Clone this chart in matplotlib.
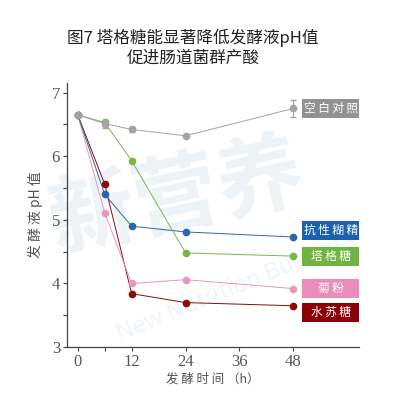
import numpy as np
import matplotlib.pyplot as plt
from matplotlib.patches import Rectangle

plt.rcParams['font.family'] = ['Noto Sans CJK SC', 'DejaVu Sans']

# 数据：发酵时间 (h) 和 pH 值
t = [0, 6, 12, 24, 48]
ph_blank = [6.65, 6.51, 6.42, 6.32, 6.75]
err_blank = [0.0, 0.06, 0.04, 0.02, 0.14]
ph_tag = [6.65, 6.53, 5.93, 4.48, 4.43]
ph_rd = [6.65, 5.40, 4.90, 4.81, 4.73]
ph_inulin = [6.65, 5.11, 4.00, 4.06, 3.92]
ph_sta = [6.65, 5.56, 3.84, 3.70, 3.65]

names = ["空白对照", "抗性糊精", "塔格糖", "菊粉", "水苏糖"]
series = [ph_blank, ph_rd, ph_tag, ph_inulin, ph_sta]
line_colors = ["#a3a3a3", "#2a67a8", "#7ab648", "#e898bd", "#8c0a0a"]
box_colors = ["#929292", "#1a62ad", "#6fb440", "#ea8dba", "#8a0008"]
label_y = [6.75, 4.83, 4.42, 3.92, 3.54]

fig = plt.figure(figsize=(3.94, 3.99), dpi=100)
ax = fig.add_axes([0.170, 0.130, 0.741, 0.662])
ax.set_zorder(2)
ax.patch.set_alpha(0)

# 水印（很淡）
fig.text(0.45, 0.50, "新营养", fontsize=62, color="#eef3f8", rotation=12,
         ha="center", va="center", fontweight="bold", zorder=0)
fig.text(0.60, 0.28, "New Nutrition Business", fontsize=17, color="#f1f5f8",
         rotation=22, ha="center", va="center", zorder=0)

draw_order = [4, 3, 1, 2, 0]
for i in draw_order:
    ax.plot(t, series[i], color=line_colors[i], lw=0.7, marker="o", ms=4.5,
            markeredgecolor=line_colors[i], zorder=3)
ax.errorbar(t, ph_blank, yerr=err_blank, fmt="none", ecolor="#a3a3a3",
            elinewidth=0.8, capsize=2, zorder=3)

# 标签框
for i in range(len(names)):
    ax.add_patch(Rectangle((50.0, label_y[i] - 0.15), 12.6, 0.30,
                           facecolor=box_colors[i], edgecolor="none",
                           clip_on=False, zorder=4))
    ax.text(56.3, label_y[i], "\u2009".join(names[i]), color="white",
            fontsize=8.5, ha="center", va="center", zorder=5)

ax.set_xlim(-2.4, 62.6)
ax.set_ylim(3, 7.15)
ax.set_xticks([0, 6, 12, 24, 36, 48])
ax.set_xticklabels(["0", "", "12", "24", "36", "48"])
ax.set_yticks([3, 4, 5, 6, 7])
ax.set_yticks([3.5, 4.5, 5.5, 6.5], minor=True)

for s in ["top", "right"]:
    ax.spines[s].set_visible(False)
for s in ["left", "bottom"]:
    ax.spines[s].set_color("#444444")
    ax.spines[s].set_linewidth(0.9)
ax.tick_params(axis="both", which="both", direction="out", length=3,
               width=0.8, color="#444444", labelcolor="#555555",
               labelsize=12, pad=2)
for lab in ax.get_xticklabels() + ax.get_yticklabels():
    lab.set_fontfamily("Liberation Serif")

ax.set_ylabel("发 酵 液 pH 值", fontsize=10, color="#555555", labelpad=6)
ax.set_xlabel("发 酵 时 间 （h）", fontsize=9, color="#555555", labelpad=2)

fig.text(0.49, 0.905, "图7 塔格糖能显著降低发酵液pH值", fontsize=12,
         color="#222222", ha="center", va="center")
fig.text(0.49, 0.855, "促进肠道菌群产酸", fontsize=12,
         color="#222222", ha="center", va="center")

fig.savefig("out.png", dpi=100)
